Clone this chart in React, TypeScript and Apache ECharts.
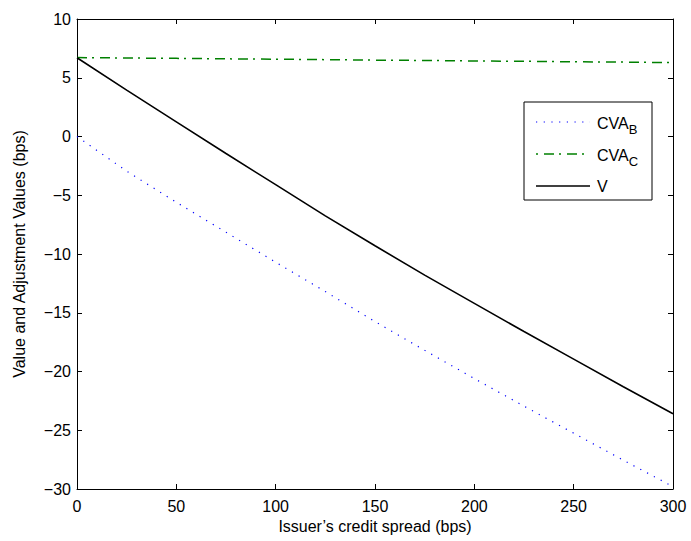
import React, { useEffect, useRef } from "react";
import * as echarts from "echarts";

const spreads = [0, 25, 50, 75, 100, 125, 150, 175, 200, 225, 250, 275, 300];
const cvaB = [0, -2.95, -5.6, -8.15, -10.7, -13.2, -15.75, -18.2, -20.6, -22.95, -25.25, -27.55, -29.8];
const cvaC = [6.72, 6.68, 6.65, 6.61, 6.58, 6.54, 6.5, 6.47, 6.43, 6.4, 6.36, 6.33, 6.29];
const vals = [6.7, 3.95, 1.25, -1.45, -4.1, -6.75, -9.3, -11.8, -14.2, -16.6, -18.95, -21.3, -23.6];

const xTicks = { min: 0, max: 300, interval: 50 };
const yTicks = { min: -30, max: 10, interval: 5 };

const FONT = "Liberation Sans, Arial, Helvetica, sans-serif";
const FS = 16;

function pairs(ys: number[]) {
  return spreads.map((x, i) => [x, ys[i]]);
}

export default function App() {
  const ref = useRef<HTMLDivElement>(null);
  useEffect(() => {
    if (!ref.current) return;
    const chart = echarts.init(ref.current, undefined, { renderer: "svg" });
    const minus = (v: number) => String(v).replace("-", "\u2212");
    const axisCommon = {
      axisLine: { show: true, onZero: false, lineStyle: { color: "#000", width: 1 } },
      axisTick: { show: true, inside: true, length: 5, lineStyle: { color: "#000" } },
      splitLine: { show: false },
    };
    const L = { x0: 536, x1: 590, tx: 597 };
    const richSub = {
      a: { fontSize: FS, fontFamily: FONT, fill: "#000" },
      b: { fontSize: 13, fontFamily: FONT, fill: "#000", padding: [13, 0, 0, 0] },
    };
    chart.setOption({
      animation: false,
      backgroundColor: "#fff",
      textStyle: { fontFamily: FONT },
      grid: { left: 77, top: 19, right: 18, bottom: 52 },
      xAxis: [
        {
          type: "value",
          ...xTicks,
          position: "bottom",
          ...axisCommon,
          axisLabel: { color: "#000", fontSize: FS, margin: 9, fontFamily: FONT, formatter: minus },
          name: "Issuer\u2019s credit spread (bps)",
          nameLocation: "middle",
          nameGap: 28,
          nameTextStyle: { color: "#000", fontSize: FS, fontFamily: FONT },
        },
        {
          type: "value",
          ...xTicks,
          position: "top",
          ...axisCommon,
          axisLabel: { show: false },
        },
      ],
      yAxis: [
        {
          type: "value",
          ...yTicks,
          position: "left",
          ...axisCommon,
          axisLabel: { color: "#000", fontSize: FS, margin: 6, fontFamily: FONT, formatter: minus },
          name: "Value and Adjustment Values (bps)",
          nameLocation: "middle",
          nameGap: 50,
          nameTextStyle: { color: "#000", fontSize: FS, fontFamily: FONT },
        },
        {
          type: "value",
          ...yTicks,
          position: "right",
          ...axisCommon,
          axisLabel: { show: false },
        },
      ],
      series: [
        {
          type: "line",
          name: "CVA_B",
          data: pairs(cvaB),
          symbol: "none",
          lineStyle: { color: "#0000ff", width: 1.2, type: [1.2, 6.5] },
        },
        {
          type: "line",
          name: "CVA_C",
          data: pairs(cvaC),
          symbol: "none",
          lineStyle: { color: "#008000", width: 1.5, type: [10, 5, 2, 6] },
        },
        {
          type: "line",
          name: "V",
          data: pairs(vals),
          symbol: "none",
          lineStyle: { color: "#000", width: 1.6 },
        },
      ],
      graphic: [
        {
          type: "rect",
          shape: { x: 524, y: 102, width: 128, height: 98 },
          style: { fill: "#fff", stroke: "#000", lineWidth: 1 },
          z: 100,
        },
        {
          type: "line",
          shape: { x1: L.x0, y1: 122, x2: L.x1, y2: 122 },
          style: { stroke: "#0000ff", lineWidth: 1.2, lineDash: [1.2, 6.5] },
          z: 101,
        },
        {
          type: "line",
          shape: { x1: L.x0, y1: 154, x2: L.x1, y2: 154 },
          style: { stroke: "#008000", lineWidth: 1.5, lineDash: [2, 6, 10, 5] },
          z: 101,
        },
        {
          type: "line",
          shape: { x1: L.x0, y1: 186, x2: L.x1, y2: 186 },
          style: { stroke: "#000", lineWidth: 1.6 },
          z: 101,
        },
        {
          type: "text",
          x: L.tx,
          y: 123,
          z: 101,
          style: { text: "{a|CVA}{b|B}", verticalAlign: "middle", fill: "#000", rich: richSub },
        },
        {
          type: "text",
          x: L.tx,
          y: 155,
          z: 101,
          style: { text: "{a|CVA}{b|C}", verticalAlign: "middle", fill: "#000", rich: richSub },
        },
        {
          type: "text",
          x: L.tx,
          y: 186,
          z: 101,
          style: { text: "V", verticalAlign: "middle", fontSize: FS, fontFamily: FONT, fill: "#000" },
        },
      ],
    });
    return () => chart.dispose();
  }, []);
  return (
    <div
      ref={ref}
      style={{ position: "fixed", left: 0, top: 0, width: 691, height: 541, background: "#fff" }}
    />
  );
}
